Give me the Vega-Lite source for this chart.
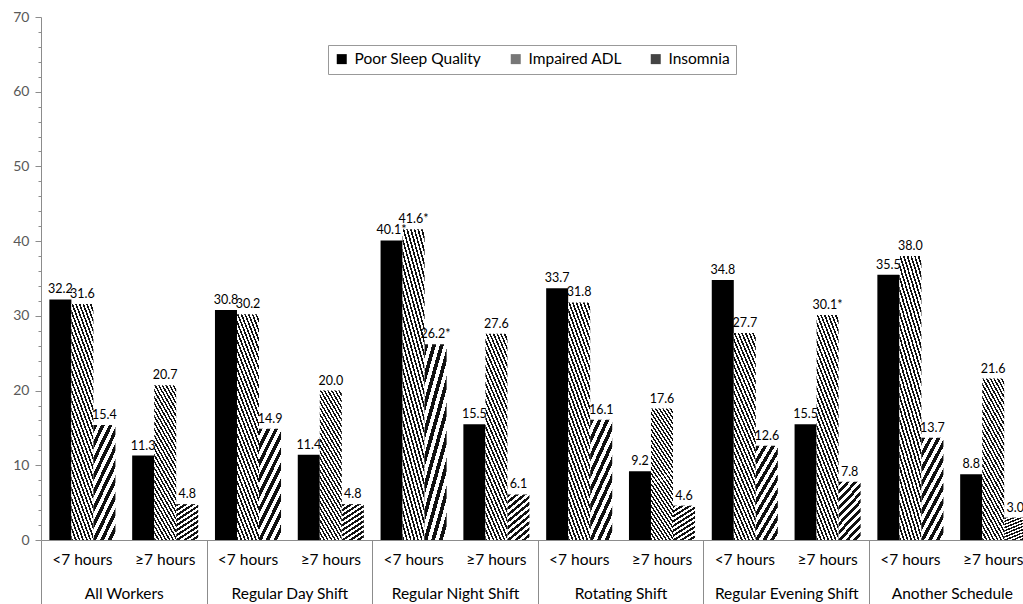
{
  "$schema": "https://vega.github.io/schema/vega-lite/v6.json",
  "width": 982,
  "height": 523,
  "autosize": {"type": "none"},
  "padding": {"left": 41, "top": 17, "right": 0, "bottom": 64},
  "config": {
    "view": {"stroke": null},
    "font": "Lato",
    "text": {"font": "Lato"}
  },
  "data": {
    "values": [
      {"g": "All Workers", "c": "All Workers|<7 hours", "s": "Poor Sleep Quality", "v": 32.2, "t": "32.2"},
      {"g": "All Workers", "c": "All Workers|<7 hours", "s": "Impaired ADL", "v": 31.6, "t": "31.6"},
      {"g": "All Workers", "c": "All Workers|<7 hours", "s": "Insomnia", "v": 15.4, "t": "15.4"},
      {"g": "All Workers", "c": "All Workers|≥7 hours", "s": "Poor Sleep Quality", "v": 11.3, "t": "11.3"},
      {"g": "All Workers", "c": "All Workers|≥7 hours", "s": "Impaired ADL", "v": 20.7, "t": "20.7"},
      {"g": "All Workers", "c": "All Workers|≥7 hours", "s": "Insomnia", "v": 4.8, "t": "4.8"},
      {"g": "Regular Day Shift", "c": "Regular Day Shift|<7 hours", "s": "Poor Sleep Quality", "v": 30.8, "t": "30.8"},
      {"g": "Regular Day Shift", "c": "Regular Day Shift|<7 hours", "s": "Impaired ADL", "v": 30.2, "t": "30.2"},
      {"g": "Regular Day Shift", "c": "Regular Day Shift|<7 hours", "s": "Insomnia", "v": 14.9, "t": "14.9"},
      {"g": "Regular Day Shift", "c": "Regular Day Shift|≥7 hours", "s": "Poor Sleep Quality", "v": 11.4, "t": "11.4"},
      {"g": "Regular Day Shift", "c": "Regular Day Shift|≥7 hours", "s": "Impaired ADL", "v": 20.0, "t": "20.0"},
      {"g": "Regular Day Shift", "c": "Regular Day Shift|≥7 hours", "s": "Insomnia", "v": 4.8, "t": "4.8"},
      {"g": "Regular Night Shift", "c": "Regular Night Shift|<7 hours", "s": "Poor Sleep Quality", "v": 40.1, "t": "40.1*"},
      {"g": "Regular Night Shift", "c": "Regular Night Shift|<7 hours", "s": "Impaired ADL", "v": 41.6, "t": "41.6*"},
      {"g": "Regular Night Shift", "c": "Regular Night Shift|<7 hours", "s": "Insomnia", "v": 26.2, "t": "26.2*"},
      {"g": "Regular Night Shift", "c": "Regular Night Shift|≥7 hours", "s": "Poor Sleep Quality", "v": 15.5, "t": "15.5"},
      {"g": "Regular Night Shift", "c": "Regular Night Shift|≥7 hours", "s": "Impaired ADL", "v": 27.6, "t": "27.6"},
      {"g": "Regular Night Shift", "c": "Regular Night Shift|≥7 hours", "s": "Insomnia", "v": 6.1, "t": "6.1"},
      {"g": "Rotating Shift", "c": "Rotating Shift|<7 hours", "s": "Poor Sleep Quality", "v": 33.7, "t": "33.7"},
      {"g": "Rotating Shift", "c": "Rotating Shift|<7 hours", "s": "Impaired ADL", "v": 31.8, "t": "31.8"},
      {"g": "Rotating Shift", "c": "Rotating Shift|<7 hours", "s": "Insomnia", "v": 16.1, "t": "16.1"},
      {"g": "Rotating Shift", "c": "Rotating Shift|≥7 hours", "s": "Poor Sleep Quality", "v": 9.2, "t": "9.2"},
      {"g": "Rotating Shift", "c": "Rotating Shift|≥7 hours", "s": "Impaired ADL", "v": 17.6, "t": "17.6"},
      {"g": "Rotating Shift", "c": "Rotating Shift|≥7 hours", "s": "Insomnia", "v": 4.6, "t": "4.6"},
      {"g": "Regular Evening Shift", "c": "Regular Evening Shift|<7 hours", "s": "Poor Sleep Quality", "v": 34.8, "t": "34.8"},
      {"g": "Regular Evening Shift", "c": "Regular Evening Shift|<7 hours", "s": "Impaired ADL", "v": 27.7, "t": "27.7"},
      {"g": "Regular Evening Shift", "c": "Regular Evening Shift|<7 hours", "s": "Insomnia", "v": 12.6, "t": "12.6"},
      {"g": "Regular Evening Shift", "c": "Regular Evening Shift|≥7 hours", "s": "Poor Sleep Quality", "v": 15.5, "t": "15.5"},
      {"g": "Regular Evening Shift", "c": "Regular Evening Shift|≥7 hours", "s": "Impaired ADL", "v": 30.1, "t": "30.1*"},
      {"g": "Regular Evening Shift", "c": "Regular Evening Shift|≥7 hours", "s": "Insomnia", "v": 7.8, "t": "7.8"},
      {"g": "Another Schedule", "c": "Another Schedule|<7 hours", "s": "Poor Sleep Quality", "v": 35.5, "t": "35.5"},
      {"g": "Another Schedule", "c": "Another Schedule|<7 hours", "s": "Impaired ADL", "v": 38.0, "t": "38.0"},
      {"g": "Another Schedule", "c": "Another Schedule|<7 hours", "s": "Insomnia", "v": 13.7, "t": "13.7"},
      {"g": "Another Schedule", "c": "Another Schedule|≥7 hours", "s": "Poor Sleep Quality", "v": 8.8, "t": "8.8"},
      {"g": "Another Schedule", "c": "Another Schedule|≥7 hours", "s": "Impaired ADL", "v": 21.6, "t": "21.6"},
      {"g": "Another Schedule", "c": "Another Schedule|≥7 hours", "s": "Insomnia", "v": 3.0, "t": "3.0"}
    ]
  },
  "encoding": {
    "y": {
      "field": "v",
      "type": "quantitative",
      "scale": {"domain": [0, 70], "nice": false},
      "axis": {
        "title": null,
        "grid": false,
        "values": [0, 2, 4, 6, 8, 10, 12, 14, 16, 18, 20, 22, 24, 26, 28, 30, 32, 34, 36, 38, 40, 42, 44, 46, 48, 50, 52, 54, 56, 58, 60, 62, 64, 66, 68, 70],
        "labelExpr": "datum.value % 10 === 0 ? datum.label : ''",
        "tickSize": {"condition": {"test": "datum.value % 10 === 0", "value": 6}, "value": 3},
        "tickColor": "#8c8c8c",
        "domainColor": "#8c8c8c",
        "labelColor": "#595959",
        "labelFontSize": 14,
        "labelFont": "Lato",
        "labelPadding": 6
      }
    }
  },
  "layer": [
    {
      "mark": {"type": "bar", "opacity": 0},
      "encoding": {
        "x": {
          "field": "g",
          "type": "nominal",
          "sort": null,
          "scale": {"type": "band", "paddingInner": 0, "paddingOuter": 0, "range": [0, 993.6]},
          "axis": {
            "orient": "bottom",
            "title": null,
            "domain": false,
            "ticks": true,
            "tickBand": "extent",
            "tickSize": 64,
            "tickColor": "#8c8c8c",
            "labelAngle": 0,
            "labelFontSize": 15.5,
            "labelFont": "Lato",
            "labelColor": "#000000",
            "labelPadding": -18
          }
        }
      }
    },
    {
      "layer": [
        {
          "transform": [{"filter": "datum.s === 'Poor Sleep Quality'"}],
          "mark": {"type": "bar"},
          "encoding": {
            "color": {
              "field": "s",
              "type": "nominal",
              "scale": {
                "domain": ["Poor Sleep Quality", "Impaired ADL", "Insomnia"],
                "range": ["#000000", "#777777", "#444444"]
              },
              "legend": {
                "title": null,
                "orient": "none",
                "legendX": 287,
                "legendY": 28,
                "direction": "horizontal",
                "strokeColor": "#999999",
                "padding": 6,
                "symbolType": "square",
                "symbolSize": 100,
                "symbolStrokeWidth": 0,
                "symbolOpacity": 1,
                "labelFontSize": 15.5,
                "labelFont": "Lato",
                "labelColor": "#000000",
                "labelOffset": 5,
                "columnPadding": 26,
                "encode": {
                  "symbols": {
                    "update": {
                      "fill": {"signal": "datum.value === 'Impaired ADL' ? {gradient: 'linear', x1: 0, y1: 1, x2: 1, y2: 0, stops: [{offset: 0, color: '#111'}, {offset: 0.1, color: '#111'}, {offset: 0.1, color: '#fff'}, {offset: 0.2, color: '#fff'}, {offset: 0.2, color: '#111'}, {offset: 0.3, color: '#111'}, {offset: 0.3, color: '#fff'}, {offset: 0.4, color: '#fff'}, {offset: 0.4, color: '#111'}, {offset: 0.5, color: '#111'}, {offset: 0.5, color: '#fff'}, {offset: 0.6, color: '#fff'}, {offset: 0.6, color: '#111'}, {offset: 0.7, color: '#111'}, {offset: 0.7, color: '#fff'}, {offset: 0.8, color: '#fff'}, {offset: 0.8, color: '#111'}, {offset: 0.9, color: '#111'}, {offset: 0.9, color: '#fff'}, {offset: 1, color: '#fff'}]} : datum.value === 'Insomnia' ? {gradient: 'linear', x1: 0, y1: 0, x2: 1, y2: 1, stops: [{offset: 0, color: '#fff'}, {offset: 0.35, color: '#fff'}, {offset: 0.35, color: '#111'}, {offset: 0.65, color: '#111'}, {offset: 0.65, color: '#fff'}, {offset: 1, color: '#fff'}]} : '#000000'"}
                    }
                  }
                }
              }
            }
          }
        },
        {
          "transform": [{"filter": "datum.s === 'Impaired ADL'"}],
          "mark": {"type": "bar", "fill": {"gradient": "linear", "x1": 0, "y1": 1, "x2": 0.2941, "y2": -0.1765, "stops": [
            {"offset": 0, "color": "#111"}, {"offset": 0.015, "color": "#111"}, {"offset": 0.015, "color": "#fff"}, {"offset": 0.03333, "color": "#fff"},
            {"offset": 0.03333, "color": "#111"}, {"offset": 0.04833, "color": "#111"}, {"offset": 0.04833, "color": "#fff"}, {"offset": 0.06667, "color": "#fff"},
            {"offset": 0.06667, "color": "#111"}, {"offset": 0.08167, "color": "#111"}, {"offset": 0.08167, "color": "#fff"}, {"offset": 0.1, "color": "#fff"},
            {"offset": 0.1, "color": "#111"}, {"offset": 0.115, "color": "#111"}, {"offset": 0.115, "color": "#fff"}, {"offset": 0.13333, "color": "#fff"},
            {"offset": 0.13333, "color": "#111"}, {"offset": 0.14833, "color": "#111"}, {"offset": 0.14833, "color": "#fff"}, {"offset": 0.16667, "color": "#fff"},
            {"offset": 0.16667, "color": "#111"}, {"offset": 0.18167, "color": "#111"}, {"offset": 0.18167, "color": "#fff"}, {"offset": 0.2, "color": "#fff"},
            {"offset": 0.2, "color": "#111"}, {"offset": 0.215, "color": "#111"}, {"offset": 0.215, "color": "#fff"}, {"offset": 0.23333, "color": "#fff"},
            {"offset": 0.23333, "color": "#111"}, {"offset": 0.24833, "color": "#111"}, {"offset": 0.24833, "color": "#fff"}, {"offset": 0.26667, "color": "#fff"},
            {"offset": 0.26667, "color": "#111"}, {"offset": 0.28167, "color": "#111"}, {"offset": 0.28167, "color": "#fff"}, {"offset": 0.3, "color": "#fff"},
            {"offset": 0.3, "color": "#111"}, {"offset": 0.315, "color": "#111"}, {"offset": 0.315, "color": "#fff"}, {"offset": 0.33333, "color": "#fff"},
            {"offset": 0.33333, "color": "#111"}, {"offset": 0.34833, "color": "#111"}, {"offset": 0.34833, "color": "#fff"}, {"offset": 0.36667, "color": "#fff"},
            {"offset": 0.36667, "color": "#111"}, {"offset": 0.38167, "color": "#111"}, {"offset": 0.38167, "color": "#fff"}, {"offset": 0.4, "color": "#fff"},
            {"offset": 0.4, "color": "#111"}, {"offset": 0.415, "color": "#111"}, {"offset": 0.415, "color": "#fff"}, {"offset": 0.43333, "color": "#fff"},
            {"offset": 0.43333, "color": "#111"}, {"offset": 0.44833, "color": "#111"}, {"offset": 0.44833, "color": "#fff"}, {"offset": 0.46667, "color": "#fff"},
            {"offset": 0.46667, "color": "#111"}, {"offset": 0.48167, "color": "#111"}, {"offset": 0.48167, "color": "#fff"}, {"offset": 0.5, "color": "#fff"},
            {"offset": 0.5, "color": "#111"}, {"offset": 0.515, "color": "#111"}, {"offset": 0.515, "color": "#fff"}, {"offset": 0.53333, "color": "#fff"},
            {"offset": 0.53333, "color": "#111"}, {"offset": 0.54833, "color": "#111"}, {"offset": 0.54833, "color": "#fff"}, {"offset": 0.56667, "color": "#fff"},
            {"offset": 0.56667, "color": "#111"}, {"offset": 0.58167, "color": "#111"}, {"offset": 0.58167, "color": "#fff"}, {"offset": 0.6, "color": "#fff"},
            {"offset": 0.6, "color": "#111"}, {"offset": 0.615, "color": "#111"}, {"offset": 0.615, "color": "#fff"}, {"offset": 0.63333, "color": "#fff"},
            {"offset": 0.63333, "color": "#111"}, {"offset": 0.64833, "color": "#111"}, {"offset": 0.64833, "color": "#fff"}, {"offset": 0.66667, "color": "#fff"},
            {"offset": 0.66667, "color": "#111"}, {"offset": 0.68167, "color": "#111"}, {"offset": 0.68167, "color": "#fff"}, {"offset": 0.7, "color": "#fff"},
            {"offset": 0.7, "color": "#111"}, {"offset": 0.715, "color": "#111"}, {"offset": 0.715, "color": "#fff"}, {"offset": 0.73333, "color": "#fff"},
            {"offset": 0.73333, "color": "#111"}, {"offset": 0.74833, "color": "#111"}, {"offset": 0.74833, "color": "#fff"}, {"offset": 0.76667, "color": "#fff"},
            {"offset": 0.76667, "color": "#111"}, {"offset": 0.78167, "color": "#111"}, {"offset": 0.78167, "color": "#fff"}, {"offset": 0.8, "color": "#fff"},
            {"offset": 0.8, "color": "#111"}, {"offset": 0.815, "color": "#111"}, {"offset": 0.815, "color": "#fff"}, {"offset": 0.83333, "color": "#fff"},
            {"offset": 0.83333, "color": "#111"}, {"offset": 0.84833, "color": "#111"}, {"offset": 0.84833, "color": "#fff"}, {"offset": 0.86667, "color": "#fff"},
            {"offset": 0.86667, "color": "#111"}, {"offset": 0.88167, "color": "#111"}, {"offset": 0.88167, "color": "#fff"}, {"offset": 0.9, "color": "#fff"},
            {"offset": 0.9, "color": "#111"}, {"offset": 0.915, "color": "#111"}, {"offset": 0.915, "color": "#fff"}, {"offset": 0.93333, "color": "#fff"},
            {"offset": 0.93333, "color": "#111"}, {"offset": 0.94833, "color": "#111"}, {"offset": 0.94833, "color": "#fff"}, {"offset": 0.96667, "color": "#fff"},
            {"offset": 0.96667, "color": "#111"}, {"offset": 0.98167, "color": "#111"}, {"offset": 0.98167, "color": "#fff"}, {"offset": 1, "color": "#fff"}
          ]}}
        },
        {
          "transform": [{"filter": "datum.s === 'Insomnia'"}],
          "mark": {"type": "bar", "fill": {"gradient": "linear", "x1": 0, "y1": 0, "x2": 0.4828, "y2": 1.2069, "stops": [
            {"offset": 0, "color": "#111"}, {"offset": 0.05, "color": "#111"}, {"offset": 0.05, "color": "#fff"}, {"offset": 0.1, "color": "#fff"},
            {"offset": 0.1, "color": "#111"}, {"offset": 0.15, "color": "#111"}, {"offset": 0.15, "color": "#fff"}, {"offset": 0.2, "color": "#fff"},
            {"offset": 0.2, "color": "#111"}, {"offset": 0.25, "color": "#111"}, {"offset": 0.25, "color": "#fff"}, {"offset": 0.3, "color": "#fff"},
            {"offset": 0.3, "color": "#111"}, {"offset": 0.35, "color": "#111"}, {"offset": 0.35, "color": "#fff"}, {"offset": 0.4, "color": "#fff"},
            {"offset": 0.4, "color": "#111"}, {"offset": 0.45, "color": "#111"}, {"offset": 0.45, "color": "#fff"}, {"offset": 0.5, "color": "#fff"},
            {"offset": 0.5, "color": "#111"}, {"offset": 0.55, "color": "#111"}, {"offset": 0.55, "color": "#fff"}, {"offset": 0.6, "color": "#fff"},
            {"offset": 0.6, "color": "#111"}, {"offset": 0.65, "color": "#111"}, {"offset": 0.65, "color": "#fff"}, {"offset": 0.7, "color": "#fff"},
            {"offset": 0.7, "color": "#111"}, {"offset": 0.75, "color": "#111"}, {"offset": 0.75, "color": "#fff"}, {"offset": 0.8, "color": "#fff"},
            {"offset": 0.8, "color": "#111"}, {"offset": 0.85, "color": "#111"}, {"offset": 0.85, "color": "#fff"}, {"offset": 0.9, "color": "#fff"},
            {"offset": 0.9, "color": "#111"}, {"offset": 0.95, "color": "#111"}, {"offset": 0.95, "color": "#fff"}, {"offset": 1, "color": "#fff"}
          ]}}
        },
        {
          "mark": {"type": "text", "baseline": "bottom", "dy": -3, "fontSize": 12.5, "font": "Lato", "color": "#000000"},
          "encoding": {
            "text": {"field": "t"}
          }
        }
      ],
      "encoding": {
        "x": {
          "field": "c",
          "type": "nominal",
          "sort": null,
          "scale": {"type": "band", "paddingInner": 0, "paddingOuter": 0, "range": [0, 993.6]},
          "axis": {
            "orient": "bottom",
            "title": null,
            "ticks": false,
            "domainColor": "#8c8c8c",
            "labelAngle": 0,
            "labelFontSize": 15.5,
            "labelFont": "Lato",
            "labelColor": "#000000",
            "labelPadding": 12,
            "labelExpr": "split(datum.value, '|')[1]"
          }
        },
        "xOffset": {
          "field": "s",
          "type": "nominal",
          "scale": {"type": "band", "paddingInner": 0, "paddingOuter": 0.38, "domain": ["Poor Sleep Quality", "Impaired ADL", "Insomnia"]}
        }
      }
    }
  ],
  "resolve": {"scale": {"x": "independent"}, "axis": {"x": "independent"}}
}
